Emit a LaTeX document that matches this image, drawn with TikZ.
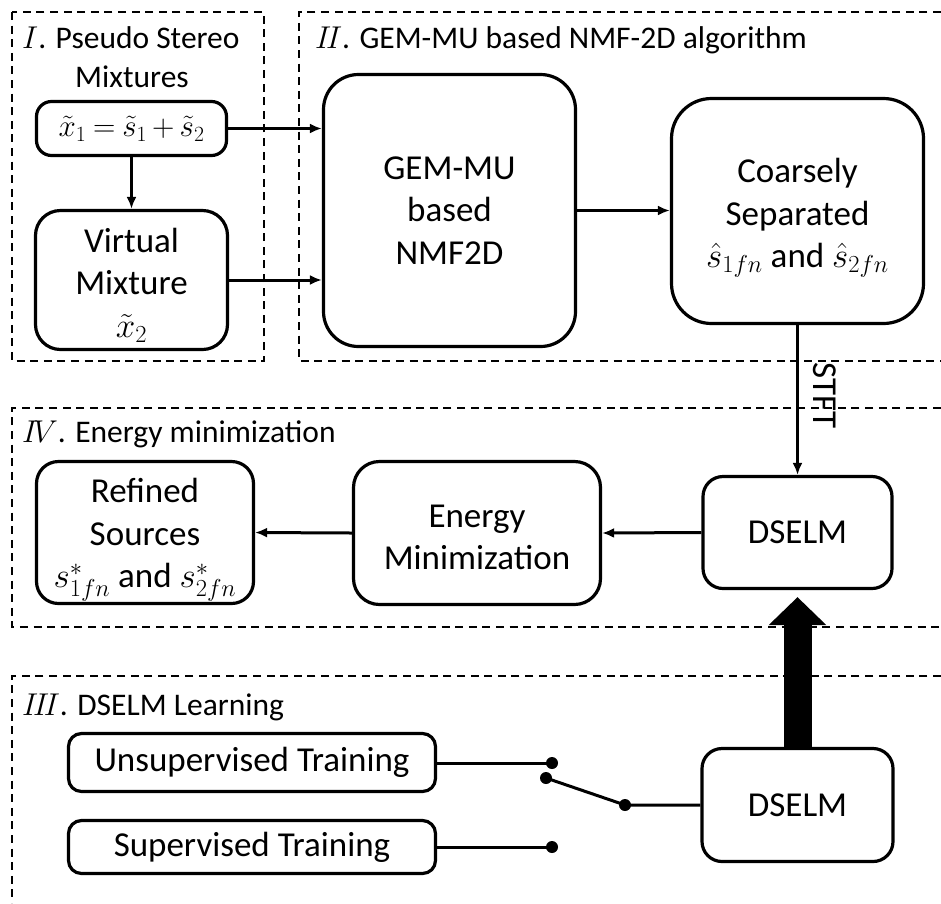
\RequirePackage{fix-cm}
\documentclass[tikz,border=0pt]{standalone}
\usepackage[no-math]{fontspec}
\setmainfont{Carlito}
\usetikzlibrary{arrows.meta}

% extra room above the first line of a box, pushing its text down
\newcommand{\lift}[1]{\rule{0pt}{#1}}

\begin{document}
\begin{tikzpicture}[x=1pt,y=-1pt,
  blk/.style={draw, line width=3.2pt, rounded corners=#1, align=center,
    inner sep=0pt, font=\fontsize{35}{42.5}\selectfont},
  blk/.default=18pt,
  grp/.style={draw, line width=1.6pt, dash pattern=on 8pt off 5.6pt},
  ttl/.style={anchor=base west, inner sep=0pt, font=\fontsize{31.5}{38}\selectfont},
  flow/.style={line width=3pt, -{Latex[length=12pt,width=10pt]}},
  wire/.style={line width=3pt},
  dot/.style={circle, fill, inner sep=0pt, minimum size=12pt},
  bigarrow/.style={line width=28pt, -{Triangle[length=28pt,width=56pt]}}
]
\path[use as bounding box] (0,0) rectangle (941,903);

% group frames
\draw[grp] (12,12) rectangle (264,361);
\draw[grp] (941,12) -- (299,12) -- (299,361) -- (941,361);
\draw[grp] (941,408) -- (12,408) -- (12,627) -- (941,627);
\draw[grp] (941,676) -- (12,676) -- (12,903);

% group titles
\node[ttl] (t1) at (22,48) {$I$. Pseudo Stereo};
\node[ttl, anchor=base] (t1b) at (132,87) {Mixtures};
\node[ttl] (t2) at (315,48) {$I\!I$. GEM-MU based NMF-2D algorithm};
\node[ttl] (t4) at (22,442) {$I\!V$. Energy minimization};
\node[ttl] (t3) at (22,715) {$I\!I\!I$. DSELM Learning};

% stage I
\node[blk=15pt, minimum width=190pt, minimum height=54pt] (x1) at (131.5,128.5)
  {\fontsize{31}{38}\selectfont\thickmuskip=4mu\medmuskip=3mu
   $\tilde{x}_1=\tilde{s}_1+\tilde{s}_2$};
\node[blk=25pt, minimum width=192pt, minimum height=139pt] (vm) at (131.5,280)
  {\lift{35pt}Virtual\\Mixture\\$\tilde{x}_2$};

% stage II
\node[blk=35pt, minimum width=252pt, minimum height=272pt] (gem) at (449.5,210.5)
  {GEM-MU\\based\\NMF2D};
\node[blk=40pt, minimum width=252pt, minimum height=225pt] (cs) at (797.5,211)
  {\lift{38pt}Coarsely\\Separated\\$\hat{s}_{1fn}$ and $\hat{s}_{2fn}$};

% stage IV
\node[blk=20pt, minimum width=189pt, minimum height=112pt] (d4) at (797.5,532.5) {DSELM};
\node[blk=26pt, minimum width=247pt, minimum height=143pt] (en) at (477,533)
  {\lift{31pt}Energy\\Minimization};
\node[blk=22pt, minimum width=217pt, minimum height=142pt] (rs) at (145,532.5)
  {\lift{39pt}Refined\\Sources\\$s^{*}_{1fn}$ and $s^{*}_{2fn}$};

% stage III
\node[blk=13pt, minimum width=367pt, minimum height=58pt] (un) at (252,762.5) {Unsupervised Training};
\node[blk=13pt, minimum width=367pt, minimum height=53pt] (su) at (252,847) {Supervised Training};
\node[blk=20pt, minimum width=191pt, minimum height=113pt] (d3) at (797.5,805) {DSELM};

% switch contacts
\node[dot] (ca) at (552,763) {};
\node[dot] (cb) at (552,847) {};
\node[dot] (cp) at (546,778) {};
\node[dot] (cq) at (625,805) {};

% connectors
\draw[flow] (x1.east) -- (x1.east -| gem.west);
\draw[flow] (vm.east) -- (vm.east -| gem.west);
\draw[flow] (x1.south) -- (vm.north);
\draw[flow] (gem.east) -- (gem.east -| cs.west);
\draw[flow] (cs.south) -- (d4.north);
\node[rotate=-90, inner sep=0pt, font=\fontsize{35}{42}\selectfont] (stft) at (825,396) {STFT};
\draw[flow] (d4.west) -- (en.east);
\draw[flow] (en.west) -- (rs.east);
\draw[bigarrow, shorten >=7pt] (d3.north) -- (d4.south);

\draw[wire] (un.east |- ca) -- (ca.center);
\draw[wire] (su.east |- cb) -- (cb.center);
\draw[wire] (cp.center) -- (cq.center) -- (cq -| d3.west);
\end{tikzpicture}
\end{document}
